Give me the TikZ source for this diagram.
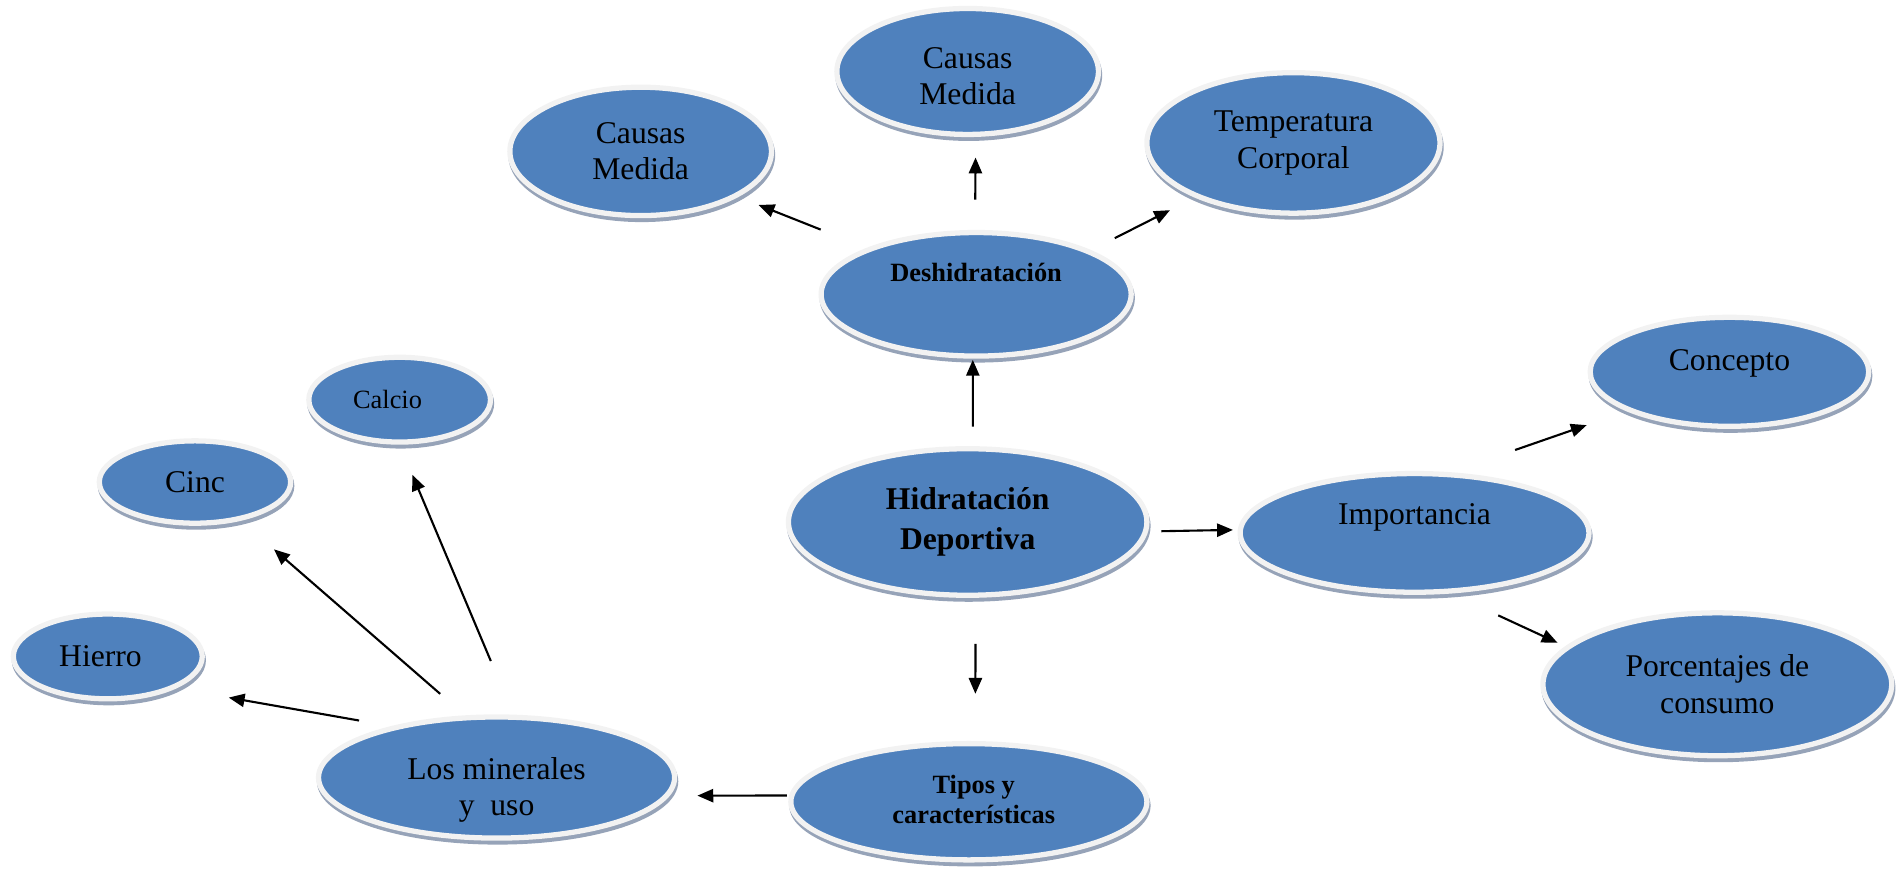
\documentclass[tikz,border=0pt]{standalone}
\usepackage{fontspec}
\setmainfont{Liberation Serif}
\usetikzlibrary{shapes.geometric, arrows.meta, shadows}
\definecolor{bubbleblue}{RGB}{79,129,189}
\definecolor{bubblerim}{RGB}{242,242,242}
\definecolor{bubbleshade}{RGB}{150,163,184}
\newlength\unitpx
\setlength\unitpx{0.02422cm}
\tikzset{bubble/.style 2 args={ellipse, inner sep=0pt, minimum width=#1, minimum height=#2, fill=bubbleblue, draw=bubblerim, line width=3pt, general shadow={shadow xshift=0.6pt, shadow yshift=-2.2pt, fill=bubbleshade, draw=bubbleshade, line width=3pt}}}
\tikzset{link/.style={line width=1.2pt, -{Triangle[length=9pt, width=7.5pt]}}}
\tikzset{txt/.style={font=\fontsize{18}{20.7}\selectfont, align=center}}
\tikzset{smalltxt/.style={font=\fontsize{15}{17}\selectfont, align=center}}
\tikzset{boldtxt/.style={font=\fontsize{15}{17}\selectfont\bfseries, align=center}}
\tikzset{bigtxt/.style={font=\fontsize{18}{22.7}\selectfont\bfseries, align=center}}

\begin{document}
\begin{tikzpicture}[x=0.02422cm, y=-0.02422cm]
        \useasboundingbox (0,0) rectangle (1568,719);
        \node[bubble={216\unitpx}{106\unitpx}, label={[txt]center:Causas\\Medida}] (cml) at (529,125) {};
        \node[bubble={216\unitpx}{104\unitpx}, label={[txt, yshift=-4\unitpx]center:Causas\\Medida}] (cmt) at (799,59) {};
        \node[bubble={242\unitpx}{116\unitpx}, label={[txt]center:Temperatura\\Corporal}] (temp) at (1068,118) {};
        \node[bubble={256\unitpx}{102\unitpx}, label={[boldtxt, yshift=18\unitpx]center:Deshidratación}] (desh) at (806,243) {};
        \node[bubble={150\unitpx}{70\unitpx}, label={[smalltxt, xshift=-10\unitpx]center:Calcio}] (calcio) at (330,330) {};
        \node[bubble={158\unitpx}{68\unitpx}, label={[txt]center:Cinc}] (cinc) at (161,398) {};
        \node[bubble={156\unitpx}{70\unitpx}, label={[txt, xshift=-6\unitpx]center:Hierro}] (hierro) at (89,542) {};
        \node[bubble={296\unitpx}{121\unitpx}, label={[bigtxt]center:Hidratación\\Deportiva}] (hid) at (799,431) {};
        \node[bubble={288\unitpx}{98\unitpx}, label={[txt, yshift=13\unitpx]center:Importancia}] (imp) at (1168,440) {};
        \node[bubble={230\unitpx}{90\unitpx}, label={[txt, yshift=7\unitpx]center:Concepto}] (conc) at (1428,307) {};
        \node[bubble={288\unitpx}{118\unitpx}, label={[txt]center:Porcentajes de\\consumo}] (porc) at (1418,565) {};
        \node[bubble={294\unitpx}{96\unitpx}, label={[boldtxt, xshift=4\unitpx, yshift=2\unitpx]center:Tipos y\\características}] (tipos) at (800,662) {};
        \node[bubble={294\unitpx}{100\unitpx}, label={[txt, yshift=-10\unitpx]center:Los minerales\\y\ \ uso}] (min) at (410,642) {};
        \draw[link, shorten <=16\unitpx, shorten >=1\unitpx] (hid.86) -- (desh.-93);
        \draw[link, shorten <=25\unitpx, shorten >=17\unitpx] (desh.91) -- (cmt.-83);
        \draw[link, shorten <=41\unitpx, shorten >=18\unitpx] (desh.157) -- (cml.-25);
        \draw[link, shorten <=22\unitpx, shorten >=23\unitpx] (desh.21) -- (temp.-151);
        \draw[link, shorten <=11\unitpx, shorten >=4\unitpx] (hid.-3) -- (imp.179);
        \draw[link, shorten <=56\unitpx, shorten >=35\unitpx] (imp.59) -- (conc.201);
        \draw[link, shorten <=43\unitpx, shorten >=7\unitpx] (imp.-59) -- (porc.166);
        \draw[link, shorten <=38\unitpx, shorten >=39\unitpx] (hid.-84) -- (tipos.84);
        \draw[link, shorten <=2\unitpx, shorten >=23\unitpx] (tipos.178) -- (min.-6);
        \draw[link, shorten <=27\unitpx, shorten >=44\unitpx] (min.154) -- (hierro.-25);
        \draw[link, shorten <=27\unitpx, shorten >=36\unitpx] (min.117) -- (cinc.-40);
        \draw[link, shorten <=48\unitpx, shorten >=27\unitpx] (min.75) -- (calcio.south);
\end{tikzpicture}
\end{document}
